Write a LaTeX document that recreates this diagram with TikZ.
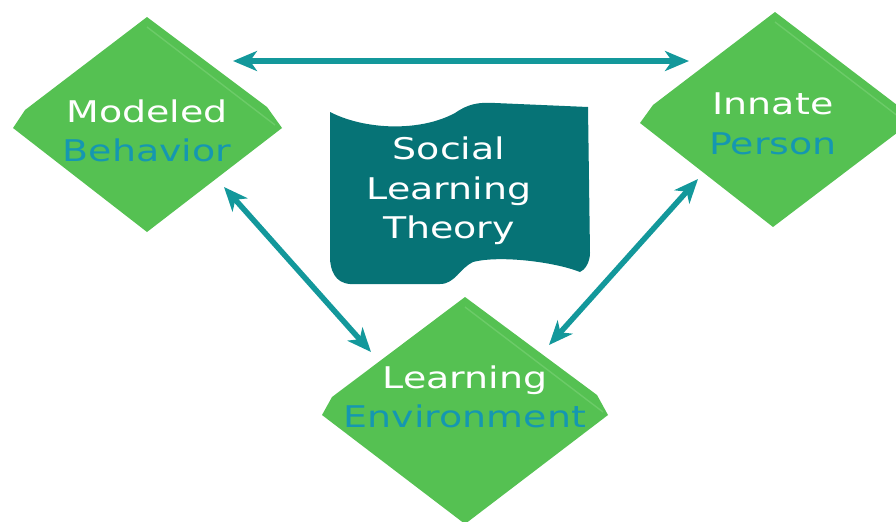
\documentclass[tikz,border=0pt]{standalone}
\usepackage{fontspec}
\newfontfamily\diagfont{DejaVu Sans}[FakeStretch=1.27]
\usetikzlibrary{arrows.meta}
\definecolor{leafgreen}{HTML}{55C152}
\definecolor{leafedge}{HTML}{6CCB68}
\definecolor{bannerteal}{HTML}{067376}
\definecolor{linkteal}{HTML}{13989B}
\definecolor{wordblue}{HTML}{1597B1}
\tikzset{
  tile/.style={fill=leafgreen},
  tileedge/.style={leafedge, line width=0.8pt},
  link/.style={linkteal, line width=0.11cm,
    {Stealth[length=0.48cm,width=0.4cm,inset=0.14cm]}-{Stealth[length=0.48cm,width=0.4cm,inset=0.14cm]}},
  words/.style={white, font=\diagfont\fontsize{17}{22.5}\selectfont, align=center, inner sep=0pt}
}

\begin{document}
\begin{tikzpicture}[x=0.02cm, y=-0.02cm]
    \useasboundingbox (0,0) rectangle (896,521);
    \clip (0,0) rectangle (896,521);
    \fill[tile] (147,17) -- (267,107) -- (282,128) -- (147,232) -- (13,128) -- (25,110) -- cycle;
    \draw[tileedge] (147,27) -- (275,125);
    \fill[tile] (775,12) -- (897,105) -- (910,123) -- (773,227) -- (640,123) -- (653,105) -- cycle;
    \draw[tileedge] (775,22) -- (903,120);
    \fill[tile] (465,297) -- (597,395) -- (608,415) -- (465,524) -- (322,415) -- (332,397) -- cycle;
    \draw[tileedge] (465,307) -- (603,412);
    \fill[bannerteal] (330,112) .. controls (365,130) and (420,132) .. (455,113)
      .. controls (468,104) and (478,102) .. (495,103) -- (588,107) -- (590,253)
      .. controls (590,262) and (585,270) .. (580,272)
      .. controls (555,262) and (500,255) .. (473,262)
      .. controls (460,268) and (455,284) .. (440,284) -- (350,284)
      .. controls (335,283) and (330,270) .. (330,257) -- cycle;

    \node[words] (modeled) at (147,131) {Modeled\\\textcolor{wordblue}{Behavior}};
    \node[words] (innate) at (773,124) {Innate\\\textcolor{wordblue}{Person}};
    \node[words] (environment) at (465,397) {Learning\\\textcolor{wordblue}{Environment}};
    \node[words] (theory) at (449,191) {Social\\Learning\\Theory};

    \coordinate (modeledNE) at (233,61);
    \coordinate (innateNW) at (689,61);
    \coordinate (modeledSE) at (224,187);
    \coordinate (environmentNW) at (371,352);
    \coordinate (innateSW) at (698,179);
    \coordinate (environmentNE) at (549,345);
    \draw[link] (modeledNE) -- (innateNW);
    \draw[link] (modeledSE) -- (environmentNW);
    \draw[link] (innateSW) -- (environmentNE);
\end{tikzpicture}
\end{document}
